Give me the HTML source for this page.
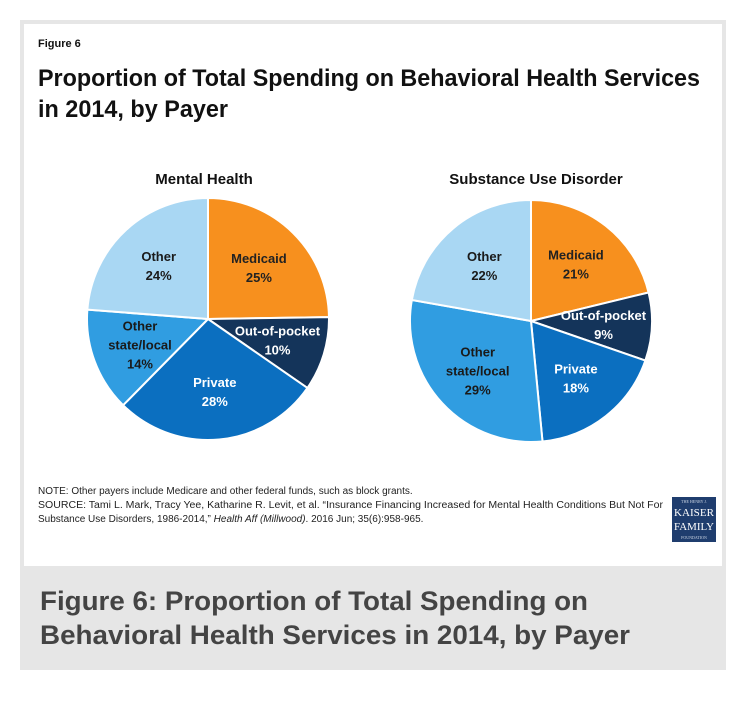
<!DOCTYPE html>
<html><head><meta charset="utf-8"><style>
html,body{margin:0;padding:0;background:#fff;}
svg{display:block;font-family:"Liberation Sans",sans-serif;}
</style></head><body>
<svg width="750" height="701" viewBox="0 0 750 701">
<rect x="20" y="20" width="706" height="650" fill="#e6e6e6"/>
<rect x="24" y="24" width="698" height="542" fill="#fff"/>
<text x="38" y="47" font-size="11" font-weight="bold" fill="#111">Figure 6</text>
<text x="38" y="86" font-size="24" font-weight="bold" fill="#111" textLength="662" lengthAdjust="spacingAndGlyphs">Proportion of Total Spending on Behavioral Health Services</text>
<text x="38" y="117" font-size="24" font-weight="bold" fill="#111" textLength="190" lengthAdjust="spacingAndGlyphs">in 2014, by Payer</text>
<text x="204" y="184" font-size="15" font-weight="bold" fill="#111" text-anchor="middle">Mental Health</text>
<text x="536" y="184" font-size="15" font-weight="bold" fill="#111" text-anchor="middle">Substance Use Disorder</text>
<g id="pies"></g>
<text x="38" y="494" font-size="10" fill="#222">NOTE: Other payers include Medicare and other federal funds, such as block grants.</text>
<text x="38" y="508" font-size="10" fill="#222" textLength="625" lengthAdjust="spacingAndGlyphs">SOURCE: Tami L. Mark, Tracy Yee, Katharine R. Levit, et al. “Insurance Financing Increased for Mental Health Conditions But Not For</text>
<text x="38" y="522" font-size="10" fill="#222">Substance Use Disorders, 1986-2014,” <tspan font-style="italic">Health Aff (Millwood)</tspan>. 2016 Jun; 35(6):958-965.</text>
<g>
<rect x="672" y="497" width="44" height="45" fill="#1f3d6e"/>
<text x="694" y="503" font-size="4" fill="#cfd8e6" text-anchor="middle" font-family="Liberation Serif,serif">THE HENRY J.</text>
<text x="694" y="516" font-size="11" fill="#fff" text-anchor="middle" font-family="Liberation Serif,serif" textLength="40" lengthAdjust="spacingAndGlyphs">KAISER</text>
<text x="694" y="530" font-size="11" fill="#fff" text-anchor="middle" font-family="Liberation Serif,serif" textLength="40" lengthAdjust="spacingAndGlyphs">FAMILY</text>
<text x="694" y="539" font-size="4" fill="#cfd8e6" text-anchor="middle" font-family="Liberation Serif,serif">FOUNDATION</text>
</g>
<text x="40" y="610" font-size="27" font-weight="bold" fill="#444" textLength="548" lengthAdjust="spacingAndGlyphs">Figure 6: Proportion of Total Spending on</text>
<text x="40" y="644" font-size="27" font-weight="bold" fill="#444" textLength="590" lengthAdjust="spacingAndGlyphs">Behavioral Health Services in 2014, by Payer</text>
</svg>
<script>
const categories = ["Medicaid", "Out-of-pocket", "Private", "Other state/local", "Other"];
const labelLines = [["Medicaid"], ["Out-of-pocket"], ["Private"], ["Other", "state/local"], ["Other"]];
const mentalHealthValues = [25, 10, 28, 14, 24];
const substanceUseValues = [21, 9, 18, 29, 22];
const colors = ["#f7901e", "#14345a", "#0b6fc0", "#309de1", "#a9d7f3"];
const textColors = ["#222", "#fff", "#fff", "#1a1a1a", "#1a1a1a"];
const NS = "http://www.w3.org/2000/svg";
const root = document.getElementById("pies");
function drawPie(values, cx, cy, r, key) {
  const total = values.reduce((a, b) => a + b, 0);
  let acc = 0;
  values.forEach((v, i) => {
    const a0 = acc / total * 2 * Math.PI;
    acc += v;
    const a1 = acc / total * 2 * Math.PI;
    const x0 = cx + r * Math.sin(a0), y0 = cy - r * Math.cos(a0);
    const x1 = cx + r * Math.sin(a1), y1 = cy - r * Math.cos(a1);
    const large = (a1 - a0) > Math.PI ? 1 : 0;
    const p = document.createElementNS(NS, "path");
    p.setAttribute("d", `M${cx},${cy}L${x0},${y0}A${r},${r} 0 ${large} 1 ${x1},${y1}Z`);
    p.setAttribute("fill", colors[i]);
    p.setAttribute("stroke", "#fff");
    p.setAttribute("stroke-width", "2");
    
    
    root.appendChild(p);
    const am = (a0 + a1) / 2;
    const lr = r * 0.6;
    const lx = cx + lr * Math.sin(am), ly = cy - lr * Math.cos(am);
    const lines = labelLines[i].concat([v + "%"]);
    const t = document.createElementNS(NS, "text");
    t.setAttribute("text-anchor", "middle");
    t.setAttribute("font-size", "13");
    t.setAttribute("font-weight", "bold");
    t.setAttribute("fill", textColors[i]);
    
    
    const startY = ly - (lines.length - 1) * 9.5 + 5;
    lines.forEach((ln, j) => {
      const ts = document.createElementNS(NS, "tspan");
      ts.setAttribute("x", lx);
      ts.setAttribute("y", startY + j * 19);
      ts.textContent = ln;
      t.appendChild(ts);
    });
    root.appendChild(t);
  });
}
drawPie(mentalHealthValues, 208, 319, 121, "mental-health");
drawPie(substanceUseValues, 531, 321, 121, "substance-use");
</script>
</body></html>
